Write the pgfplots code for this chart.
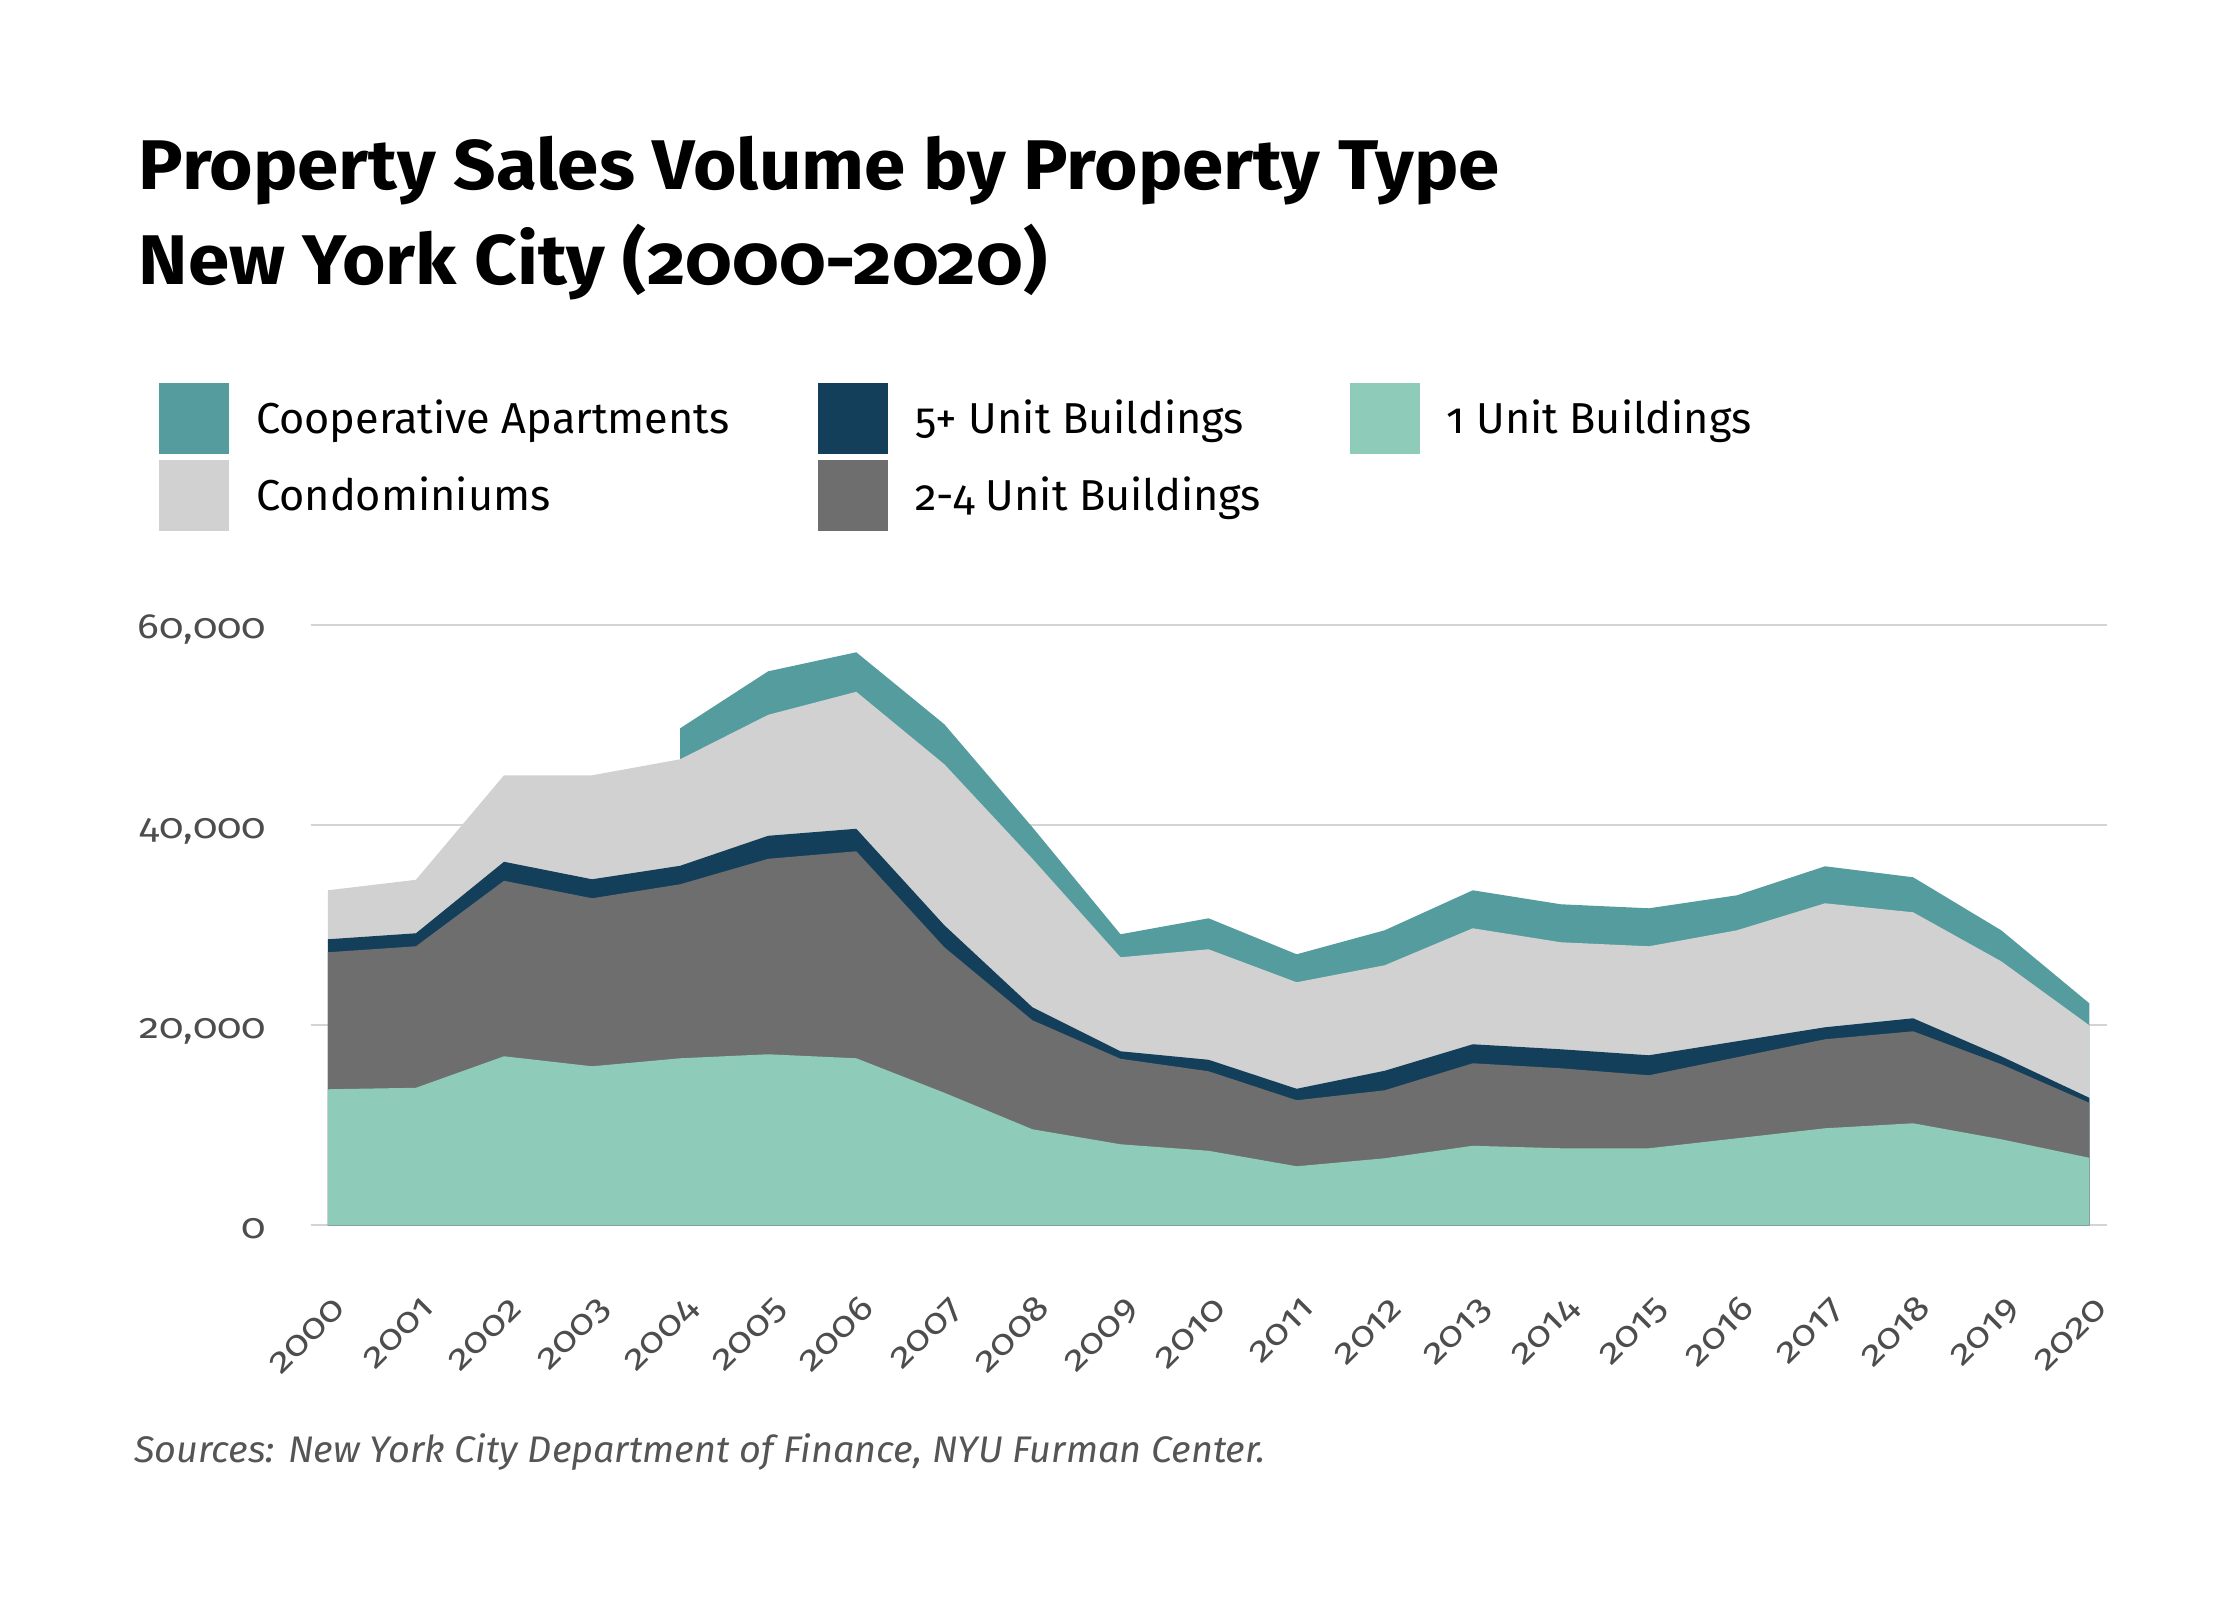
\documentclass[border=0pt]{standalone}
\usepackage{fontspec}
\setmainfont{Fira Sans}[Numbers=OldStyle]
\newfontfamily\tickfont{Fira Sans}[Numbers=OldStyle, FakeStretch=1.15]
\newfontfamily\titlefont{Fira Sans}[Numbers=OldStyle, FakeStretch=1.06]
\newfontfamily\footfont{Fira Sans}[Numbers=OldStyle, FakeStretch=1.022]
\usepackage{pgfplots}
\usepackage{pgfplotstable}
\pgfplotsset{compat=1.18}
\definecolor{coopc}{HTML}{559C9E}
\definecolor{fivec}{HTML}{143F5A}
\definecolor{onec}{HTML}{8ECBB8}
\definecolor{condoc}{HTML}{D1D1D1}
\definecolor{twoc}{HTML}{6E6E6E}
\definecolor{gridc}{HTML}{D4D4D4}
\definecolor{tickc}{HTML}{4D4D4D}
\definecolor{footc}{HTML}{555555}

% cumulative tops of the stacked areas
\pgfplotstableread{
year one two five condo
2000 13600 27300 28600 33500
2001 13750 27900 29200 34550
2002 16900 34450 36350 45000
2003 15900 32700 34600 45000
2004 16700 34100 35950 46600
2005 17100 36650 38950 51050
2006 16700 37400 39650 53350
2007 13250 27800 30000 46100
2008 9600 20500 21800 36650
2009 8100 16650 17400 26800
2010 7450 15400 16550 27600
2011 5900 12500 13650 24300
2012 6700 13500 15450 26000
2013 7950 16200 18100 29700
2014 7700 15700 17600 28300
2015 7700 15000 17000 27900
2016 8700 16800 18400 29500
2017 9700 18600 19800 32200
2018 10200 19400 20700 31300
2019 8600 16100 16900 26400
2020 6750 12250 12750 20000
}\stackdata

\pgfplotstableread{
year coop
2004 49700
2005 55400
2006 57300
2007 50100
2008 39800
2009 29100
2010 30700
2011 27100
2012 29500
2013 33500
2014 32100
2015 31700
2016 33000
2017 35900
2018 34800
2019 29500
2020 22200
}\coopdata

\begin{document}
\begin{tikzpicture}
\useasboundingbox (0,0) rectangle (784bp,560bp);
\node[anchor=base west, inner sep=0pt, font=\fontsize{24.7}{30}\titlefont\bfseries] at (48.4bp,493.8bp) {Property Sales Volume by Property Type};
\node[anchor=base west, inner sep=0pt, font=\fontsize{24.7}{30}\titlefont\bfseries] at (48.4bp,460.3bp) {New York City (2000-2020)};
\node[anchor=base west, inner sep=0pt, font=\fontsize{13.0}{15}\footfont\itshape, color=footc] at (46.9bp,48.2bp) {Sources: New York City Department of Finance, NYU Furman Center.};

\begin{axis}[
  at={(108.9bp,131.15bp)}, anchor=south west,
  scale only axis, width=628.5bp, height=210bp,
  xmin=1999.81, xmax=2020.20, ymin=0, ymax=60000,
  scaled y ticks=false,
  axis line style={draw=none},
  major tick length=0pt,
  ymajorgrids, grid style={color=gridc, line width=0.7bp},
  xtick={2000,2001,...,2020},
  xticklabels={2000,2001,2002,2003,2004,2005,2006,2007,2008,2009,2010,2011,2012,2013,2014,2015,2016,2017,2018,2019,2020},
  ytick={0,20000,40000,60000},
  yticklabels={0,{20,000},{40,000},{60,000}},
  tick label style={font=\fontsize{12.3}{15}\tickfont, color=tickc, inner sep=0pt},
  yticklabel style={anchor=base east, xshift=-15.5bp, yshift=-4.65bp},
  xticklabel style={xshift=6.85bp, yshift=-29.5bp, rotate=45, anchor=base east},
  legend image code/.code={\fill[#1] (0bp,-7.13bp) rectangle (24.5bp,17.62bp);},
  legend columns=3,
  legend style={at={(-0.0847,1.404)}, anchor=north west, draw=none, fill=none,
    inner sep=0pt, outer sep=0pt,
    font=\fontsize{15.2}{18}\selectfont, text=black,
    nodes={inner sep=0pt, outer sep=0pt},
    cells={anchor=base west},
    column sep=0pt, row sep=2.2bp,
    /tikz/every odd column/.style={column sep=9.45bp},
    /tikz/every even column/.style={column sep=31bp}},
]
\addlegendimage{fill=coopc, draw=none}
\addlegendentry{Cooperative Apartments}
\addlegendimage{fill=fivec, draw=none}
\addlegendentry{5+ Unit Buildings}
\addlegendimage{fill=onec, draw=none}
\addlegendentry{1 Unit Buildings}
\addlegendimage{fill=condoc, draw=none}
\addlegendentry{Condominiums}
\addlegendimage{fill=twoc, draw=none}
\addlegendentry{2-4 Unit Buildings}

\addplot[fill=coopc, draw=none, forget plot] table[x=year, y=coop]{\coopdata} \closedcycle;
\addplot[fill=condoc, draw=none, forget plot] table[x=year, y=condo]{\stackdata} \closedcycle;
\addplot[fill=fivec, draw=none, forget plot] table[x=year, y=five]{\stackdata} \closedcycle;
\addplot[fill=twoc, draw=none, forget plot] table[x=year, y=two]{\stackdata} \closedcycle;
\addplot[fill=onec, draw=none, forget plot] table[x=year, y=one]{\stackdata} \closedcycle;
\end{axis}
\end{tikzpicture}
\end{document}
